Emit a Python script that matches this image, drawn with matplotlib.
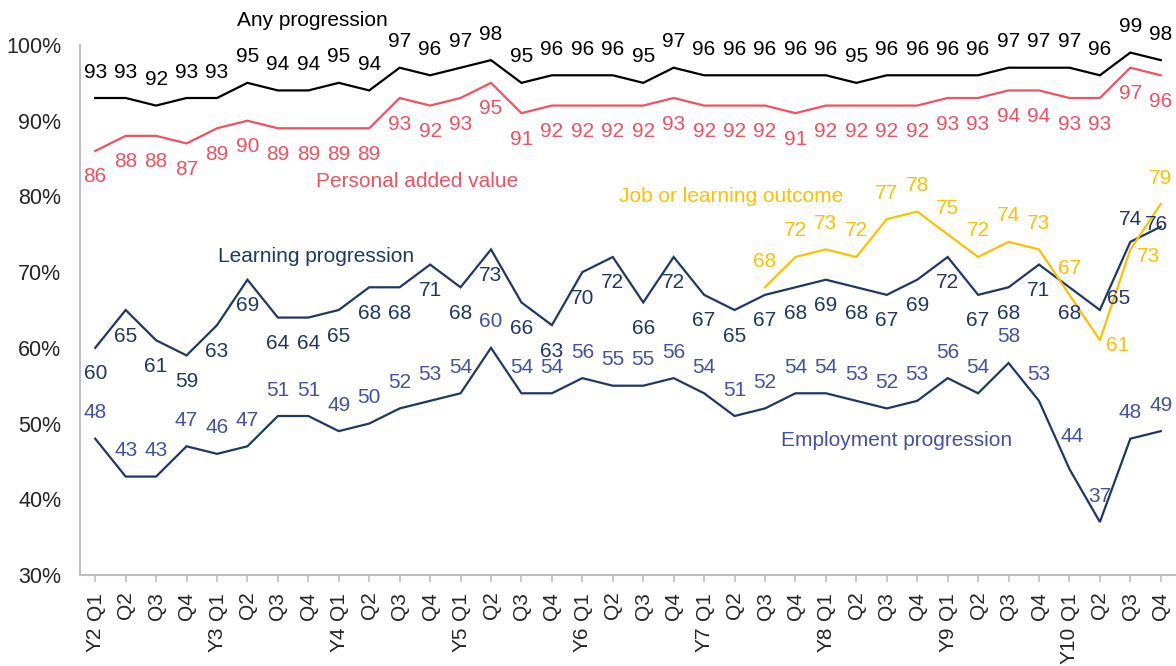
import matplotlib
matplotlib.use("Agg")
import matplotlib.pyplot as plt
import numpy as np

plt.rcParams['font.family'] = ['Liberation Sans', 'DejaVu Sans']

years = ["Y2", "Y3", "Y4", "Y5", "Y6", "Y7", "Y8", "Y9", "Y10"]
quarters = ["Q1", "Q2", "Q3", "Q4"]

any_prog = [93, 93, 92, 93, 93, 95, 94, 94, 95, 94, 97, 96, 97, 98, 95, 96, 96, 96,
            95, 97, 96, 96, 96, 96, 96, 95, 96, 96, 96, 96, 97, 97, 97, 96, 99, 98]
personal = [86, 88, 88, 87, 89, 90, 89, 89, 89, 89, 93, 92, 93, 95, 91, 92, 92, 92,
            92, 93, 92, 92, 92, 91, 92, 92, 92, 92, 93, 93, 94, 94, 93, 93, 97, 96]
learning = [60, 65, 61, 59, 63, 69, 64, 64, 65, 68, 68, 71, 68, 73, 66, 63, 70, 72,
            66, 72, 67, 65, 67, 68, 69, 68, 67, 69, 72, 67, 68, 71, 68, 65, 74, 76]
employment = [48, 43, 43, 47, 46, 47, 51, 51, 49, 50, 52, 53, 54, 60, 54, 54, 56, 55,
              55, 56, 54, 51, 52, 54, 54, 53, 52, 53, 56, 54, 58, 53, 44, 37, 48, 49]
job_start = 22
job_outcome = [68, 72, 73, 72, 77, 78, 75, 72, 74, 73, 67, 61, 73, 79]

n = len(any_prog)
x = np.arange(n)
xj = np.arange(job_start, job_start + len(job_outcome))

C_ANY = "#000000"
C_PERS = "#f4505e"
C_LEARN = "#1f3864"
C_EMP_LINE = "#1f3864"
C_EMP_LBL = "#4452a3"
C_JOB = "#ffc000"
C_TICK = "#262626"

fig = plt.figure(figsize=(11.76, 6.66), dpi=100)
ax = fig.add_axes([80/1176, (666-575)/666, (1176-80)/1176, (575-45)/666])

ax.plot(x, any_prog, color=C_ANY, lw=1.6, solid_joinstyle='miter', zorder=3)
ax.plot(x, personal, color=C_PERS, lw=1.6, solid_joinstyle='miter', zorder=3)
ax.plot(x, learning, color=C_LEARN, lw=1.6, solid_joinstyle='miter', zorder=3)
ax.plot(x, employment, color=C_EMP_LINE, lw=1.6, solid_joinstyle='miter', zorder=3)
ax.plot(xj, job_outcome, color=C_JOB, lw=1.6, solid_joinstyle='miter', zorder=3)

FS = 15
ABOVE = (0, 26)
BELOW = (0, -26)


def label_series(xs, vals, color, default, overrides=None):
    overrides = overrides or {}
    for xi, v in zip(xs, vals):
        off = overrides.get(int(xi), default)
        ax.annotate(str(v), (xi, v), xytext=off, textcoords='offset pixels',
                    ha='center', va='center', color=color, fontsize=FS, zorder=4)


label_series(x, any_prog, C_ANY, ABOVE)
label_series(x, personal, C_PERS, BELOW)
label_series(x, learning, C_LEARN, BELOW, {33: (19, 12), 34: (0, 22), 35: (-4, 2)})
label_series(x, employment, C_EMP_LBL, ABOVE, {32: (3, 32)})
label_series(xj, job_outcome, C_JOB, ABOVE, {33: (18, -5), 34: (18, -7)})


def name_at(px, py, text, color):
    fig.text(px/1176, 1 - py/666, text, color=color, fontsize=FS,
             ha='center', va='center')


name_at(312, 20, "Any progression", C_ANY)
name_at(417, 182, "Personal added value", C_PERS)
name_at(316, 256, "Learning progression", C_LEARN)
name_at(731, 196, "Job or learning outcome", C_JOB)
name_at(897, 440, "Employment progression", C_EMP_LBL)

ax.set_ylim(30, 100)
ax.set_xlim(-0.5, n - 0.5)
yt = np.arange(30, 101, 10)
ax.set_yticks(yt)
ax.set_yticklabels([f"{v}%" for v in yt], fontsize=15.5, color=C_TICK)
ax.tick_params(axis='y', length=0, pad=13.5)

ax.set_xticks(x)
ax.set_xticklabels([quarters[i % 4] for i in range(n)], rotation=90, fontsize=15,
                   color=C_TICK)
ax.tick_params(axis='x', length=5, width=1.2, color="#bfbfbf", pad=7)

for k, yr in enumerate(years):
    ax.annotate(yr, (4 * k, 0), xycoords=('data', 'axes fraction'),
                xytext=(0, -52), textcoords='offset pixels', rotation=90,
                ha='center', va='top', fontsize=15, color=C_TICK,
                annotation_clip=False)

for s in ['top', 'right']:
    ax.spines[s].set_visible(False)
for s in ['left', 'bottom']:
    ax.spines[s].set_color("#bfbfbf")
    ax.spines[s].set_linewidth(1.5)

fig.savefig("out.png", dpi=100)
